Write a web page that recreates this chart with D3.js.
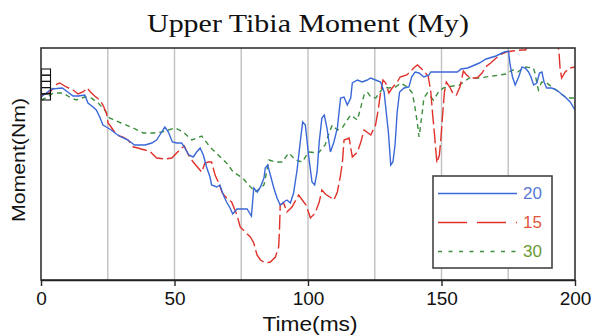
<!DOCTYPE html>
<html>
<head>
<meta charset="utf-8">
<script src="https://cdn.jsdelivr.net/npm/d3@7"></script>
<style>
  body { margin: 0; background: #fff; }
  svg { display: block; }
</style>
</head>
<body>
<script>
// time (ms) and moment (Nm) for each run
const time20 = [0,1,4,8,10,12,14,16.4,17.6,19.5,20.7,22,23.2,24.5,26.3,28.2,30,32.6,35,39,41.5,43.3,45.2,46.4,47.7,49.2,50.8,52.7,53.9,55.4,57,58.3,59.6,60.8,62,63.3,63.9,65.8,67,68.3,69.5,70.8,71.8,73.4,77.2,78.8,79.7,81,82.2,83.5,84,84.9,85.9,87.2,88.4,89.6,90.9,92.1,93.4,94.6,95.9,97.1,98,99,100.2,101.5,102.5,103.4,104.2,105.2,106.1,107.1,108.4,109.7,111,112.2,113.5,114.7,116,116.6,118.5,120.3,122.2,123.5,125.3,127.2,128.5,129.3,130.1,131,131.8,132.6,133.4,134.3,136,137.8,138.8,140.1,141.6,143.4,145.3,146,151.7,156,157.3,159.8,164.2,166.7,170.4,173.5,175.1,175.7,176.6,177.6,178.9,180.1,181.4,182.6,183.5,184.5,185.7,186.7,187.6,188.4,189.4,191.3,193.1,196.3,198.2,200];
const moment20 = [-49,-47,-41,-40,-44,-48,-48,-47,-55,-59,-62,-69,-77,-79,-82,-86,-89,-92,-97,-97,-95,-92,-84,-79,-84,-94,-95,-95,-100,-107,-109,-104,-100,-107,-119,-129,-137,-139,-137,-147,-154,-160,-166,-161,-161,-168,-140,-144,-139,-130,-120,-117,-127,-140,-150,-157,-154,-152,-155,-145,-122,-94,-74,-77,-107,-134,-137,-124,-94,-70,-67,-80,-104,-94,-80,-50,-49,-57,-50,-35,-32,-34,-32,-30,-32,-34,-44,-64,-84,-117,-114,-97,-64,-44,-40,-39,-29,-24,-25,-29,-27,-24,-24,-24,-21,-20,-15,-11,-8,-4,-3,-17,-29,-37,-29,-19,-20,-24,-29,-37,-35,-25,-24,-34,-40,-40,-42,-49,-54,-62];

const time15 = [0,3,6,7,9.5,12,13.9,15.7,17.3,18.5,20.1,22,23.2,24.5,25.1,26,28.3,30.5,32.6,34.6,36.3,37.5,39,41,43.3,46.4,49,50.8,52.7,53.7,55.2,57,58.9,60.2,61.4,62.7,63.9,65.2,66.4,67.9,69.5,71.4,73.4,74.6,76.5,78.4,79.7,80.9,82.2,84,85.9,87.8,89,89.3,89.6,90.9,92.1,94,96.5,98.4,99.3,100.9,102.7,104.2,105.2,106.5,108.7,109.7,111,112.2,112.9,113.5,115.4,116.6,118.5,119.8,121,123.5,125.3,126.4,127.2,128.1,129.1,130.3,131.5,133.2,134.5,137,140,141,143,145,146,146.7,147.3,147.7,148.3,149.2,149.8,150.5,151.1,151.8,153.1,154.4,155.6,156.9,158.2,159.4,160.7,163.3,165.2,166.5,168.4,170.5,172.5,174.2,176.5,180,181.5,183,190,193.7,194,194.4,195,196.3,198.1,200];
const moment15 = [-47,-45,-36,-35,-39,-42,-46,-44,-40,-44,-48,-52,-57,-65,-75,-78,-87,-89,-92,-99,-100,-101,-102,-104,-110,-111,-110,-105,-100,-98,-107,-114,-120,-124,-115,-114,-114,-127,-134,-145,-150,-154,-167,-179,-184,-189,-195,-207,-212,-215,-214,-209,-199,-184,-157,-155,-164,-159,-147,-154,-157,-170,-165,-154,-142,-146,-150,-152,-144,-127,-114,-92,-90,-109,-104,-94,-82,-87,-77,-60,-44,-32,-35,-45,-40,-35,-29,-27,-19,-17,-22,-28,-44,-67,-84,-97,-115,-107,-90,-64,-44,-34,-39,-46,-47,-39,-23,-27,-30,-30,-25,-19,-15,-10,-6,-4,-3,-2,-2,6,12,2,-4,-20,-30,-24,-20,-19];

const time30 = [0,2.6,4.5,8.2,10.7,13.2,16.4,18.8,21.4,23.8,25.7,30,34.5,38.3,42,45.2,47.7,50.2,53.3,56.5,60.2,63.3,66.4,69.5,72,75.5,77.8,80.3,82.2,83.5,85.4,87.8,90.3,92.8,95.3,97.8,100.2,103.9,106.4,107.9,109.1,111,112.8,114.7,116,118.5,119.7,121,122.2,123.5,125.4,126.6,128.5,130.3,132.8,134.7,137.2,139.1,140.1,140.9,141.6,142.2,142.8,143.4,144.7,147,148.9,150.7,154.2,156.7,160.4,164.2,169.2,174.2,176.7,178.5,181.3,184.4,185,185.7,186.3,187.5,189.4,191.9,194.4,196.9,198.8,200];
const moment30 = [-52,-49,-45,-45,-49,-52,-49,-50,-55,-62,-70,-75,-80,-85,-85,-84,-82,-80,-84,-92,-88,-99,-107,-115,-124,-130,-137,-144,-140,-137,-112,-114,-114,-105,-112,-114,-104,-105,-97,-85,-77,-82,-80,-72,-67,-72,-60,-47,-44,-49,-50,-45,-39,-40,-39,-35,-39,-45,-60,-74,-89,-77,-64,-50,-45,-52,-44,-40,-38,-37,-30,-30,-28,-26,-22,-24,-19,-20,-25,-35,-42,-34,-35,-40,-45,-50,-50,-50];

const xTicks = [0, 50, 100, 150, 200];
const xGrid = [25, 50, 75, 100, 125, 150, 175];
const legendNames = ["20", "15", "30"];

const W = 594, H = 336;
const m = { left: 41, top: 48, right: 19, bottom: 56 };
const iw = W - m.left - m.right, ih = H - m.top - m.bottom;

const svg = d3.select("body").append("svg")
  .attr("width", W)
  .attr("height", H);

const x = d3.scaleLinear().domain([0, 200]).range([0, iw]);
const y = d3.scaleLinear().domain([-232, 0]).range([ih, 0]);

svg.append("text")
  .attr("x", 308).attr("y", 32)
  .attr("text-anchor", "middle")
  .attr("font-family", "'Liberation Serif', 'Times New Roman', serif")
  .attr("font-size", 26)
  .attr("textLength", 322).attr("lengthAdjust", "spacingAndGlyphs")
  .attr("fill", "#111")
  .text("Upper Tibia Moment (My)");

const g = svg.append("g").attr("transform", `translate(${m.left},${m.top})`);

g.append("defs").append("clipPath").attr("id", "plotclip")
  .append("rect").attr("width", iw).attr("height", ih);

// vertical grid
g.selectAll(".grid").data(xGrid).enter().append("line")
  .attr("x1", d => x(d)).attr("x2", d => x(d))
  .attr("y1", 0).attr("y2", ih)
  .attr("stroke", "#c4c4c4").attr("stroke-width", 1.5);

const series = [
  { name: "20", t: time20, v: moment20, color: "#3a68d8", dash: null, text: "#5a78d8" },
  { name: "15", t: time15, v: moment15, color: "#e0302a", dash: "15,4", text: "#e2553a" },
  { name: "30", t: time30, v: moment30, color: "#3d8f3d", dash: "5,4", text: "#6a9a34" }
];

const line = d3.line().x(d => x(d[0])).y(d => y(d[1]));

// draw 30 first so blue sits on top
const plotted = g.append("g").attr("clip-path", "url(#plotclip)");
[series[2], series[1], series[0]].forEach(s => {
  plotted.append("path")
    .datum(d3.zip(s.t, s.v))
    .attr("d", line)
    .attr("fill", "none")
    .attr("stroke", s.color)
    .attr("stroke-width", 1.4)
    .attr("stroke-dasharray", s.dash);
});

// little marker stack at the start
g.selectAll(".mk").data(d3.range(5)).enter().append("rect")
  .attr("x", 0.5).attr("y", d => 21 + d * 6.2)
  .attr("width", 9).attr("height", 6.2)
  .attr("fill", "none").attr("stroke", "#111").attr("stroke-width", 1.1);

// frame
g.append("rect")
  .attr("width", iw).attr("height", ih)
  .attr("fill", "none").attr("stroke", "#333").attr("stroke-width", 1.6);

// x axis
const xAxis = g.append("g")
  .attr("transform", `translate(0,${ih})`)
  .call(d3.axisBottom(x).tickValues(xTicks).tickSize(6).tickSizeOuter(0));
xAxis.select(".domain").attr("stroke", "#222").attr("stroke-width", 1.6);
xAxis.selectAll(".tick line").attr("stroke", "#222").attr("stroke-width", 1.4);
xAxis.selectAll(".tick text")
  .attr("font-family", "'Liberation Sans', Arial, sans-serif")
  .attr("font-size", 19).attr("fill", "#111").attr("dy", "0.85em");

svg.append("text")
  .attr("x", m.left + iw / 2 + 2).attr("y", 331)
  .attr("text-anchor", "middle")
  .attr("font-family", "'Liberation Sans', Arial, sans-serif")
  .attr("font-size", 21).attr("fill", "#111")
  .attr("textLength", 95).attr("lengthAdjust", "spacingAndGlyphs")
  .text("Time(ms)");

svg.append("text")
  .attr("transform", "translate(25,160) rotate(-90)")
  .attr("text-anchor", "middle")
  .attr("font-family", "'Liberation Sans', Arial, sans-serif")
  .attr("font-size", 19).attr("fill", "#111")
  .attr("textLength", 124).attr("lengthAdjust", "spacingAndGlyphs")
  .text("Moment(Nm)");

// legend
const lg = g.append("g").attr("transform", `translate(${433 - m.left},${176 - m.top})`);
lg.append("rect").attr("width", 119).attr("height", 92)
  .attr("fill", "#fff").attr("stroke", "#444").attr("stroke-width", 1.6);
series.forEach((s, i) => {
  const yy = 17.5 + i * 29;
  lg.append("line")
    .attr("x1", 5).attr("x2", 84).attr("y1", yy).attr("y2", yy)
    .attr("stroke", s.color).attr("stroke-width", 1.4)
    .attr("stroke-dasharray", i === 1 ? "29,10" : i === 2 ? "4,6.5" : null);
  lg.append("text")
    .attr("x", 90).attr("y", yy).attr("dy", "0.35em")
    .attr("font-family", "'Liberation Sans', Arial, sans-serif")
    .attr("font-size", 17).attr("fill", s.text)
    .text(legendNames[i]);
});
</script>
</body>
</html>
